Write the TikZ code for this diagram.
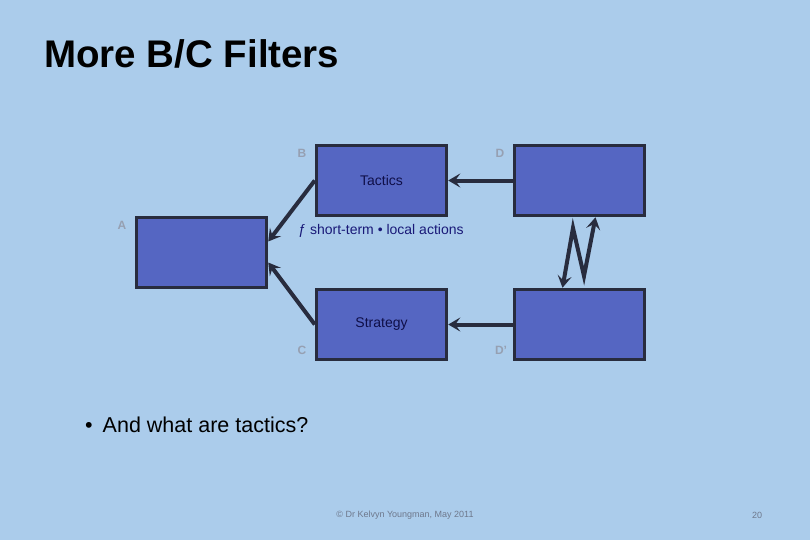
\documentclass[tikz,border=0pt]{standalone}
\usepackage{fontspec}
\setmainfont{Liberation Sans}
\usepackage{tikz}
\usetikzlibrary{arrows.meta}
\definecolor{slidebg}{RGB}{171,204,235}
\definecolor{boxfill}{RGB}{85,102,194}
\definecolor{boxline}{RGB}{40,44,62}
\definecolor{lblgrey}{RGB}{150,160,178}
\definecolor{navytext}{RGB}{25,25,120}
\definecolor{footgrey}{RGB}{110,120,140}

\begin{document}
\begin{tikzpicture}[x=1pt,y=-1pt]
	\tikzstyle{every node}=[inner sep=0pt]
	\tikzstyle{filter}=[draw=boxline,fill=boxfill,line width=3.5pt,minimum width=130pt,minimum height=70pt,text=navytext!60!black,font=\fontsize{14}{14}\selectfont]
	\tikzstyle{corner}=[text=lblgrey,font=\bfseries\fontsize{12}{12}\selectfont]
	\tikzstyle{link}=[draw=boxline,line width=4pt,-{Stealth[length=12pt,width=14pt,inset=5pt]}]

	\fill[slidebg] (0,0) rectangle (810,540);

	\node[anchor=west,font=\bfseries\fontsize{38.5}{38.5}\selectfont] (title) at (44,54) {More B/C Filters};

	% the filter boxes
	\node[filter] (A) at (201.5,252.5) {};
	\node[filter] (B) at (381.5,180.5) {Tactics};
	\node[filter] (C) at (381.5,324.5) {Strategy};
	\node[filter] (D) at (579.5,180.5) {};
	\node[filter] (Dp) at (579.5,324.5) {};

	\node[corner] (lA) at (122,225) {A};
	\node[corner] (lB) at (302,153) {B};
	\node[corner] (lC) at (302,350) {C};
	\node[corner] (lD) at (500,153) {D};
	\node[corner] (lDp) at (501,350) {D’};

	\node[text=navytext,font=\fontsize{14}{14}\selectfont] (note) at (381,231) {ƒ short-term • local actions};

	% connectors
	\draw[link] (B.west) -- ([yshift=11pt]A.east);
	\draw[link] (C.west) -- ([yshift=-10pt]A.east);
	\draw[link] (D.west) -- (B.east);
	\draw[link] (Dp.west) -- (C.east);
	\coordinate (zz1) at (573,228);
	\coordinate (zz2) at (584,276);
	\draw[link,{Stealth[length=12pt,width=14pt,inset=5pt]}-{Stealth[length=12pt,width=14pt,inset=5pt]}]
		([xshift=-17pt]Dp.north) -- (zz1) -- (zz2) -- ([xshift=16pt]D.south);

	\node[anchor=west,font=\fontsize{21.5}{21.5}\selectfont] (question) at (85,425) {•\hspace{10pt}And what are tactics?};

	\node[text=footgrey,font=\fontsize{9}{9}\selectfont] (foot) at (405,515) {© Dr Kelvyn Youngman, May 2011};
	\node[text=footgrey,font=\fontsize{9}{9}\selectfont] (page) at (757,515) {20};
\end{tikzpicture}
\end{document}
